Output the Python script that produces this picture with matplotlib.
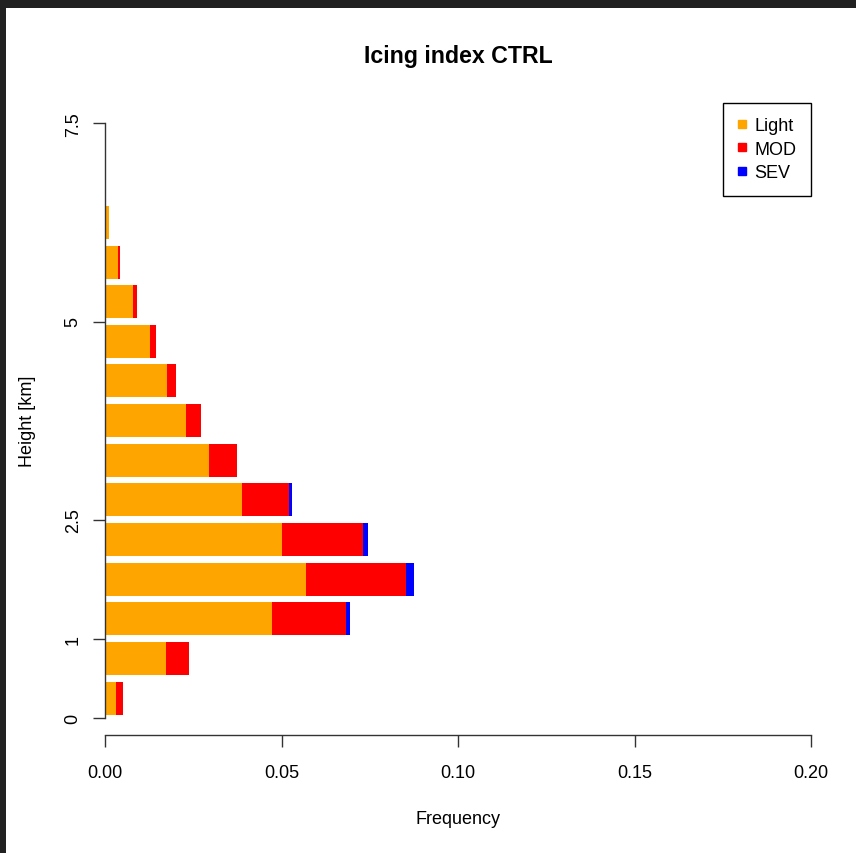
import matplotlib
matplotlib.use("Agg")
import matplotlib.pyplot as plt
from matplotlib.patches import Rectangle
from matplotlib.lines import Line2D
import numpy as np

plt.rcParams['font.family'] = ['Liberation Sans', 'DejaVu Sans']

# Height bins (km, lower edge), 0.5 km each
heights = [0.0, 0.5, 1.0, 1.5, 2.0, 2.5, 3.0, 3.5, 4.0, 4.5, 5.0, 5.5, 6.0]
light = [0.0031, 0.0172, 0.0473, 0.0569, 0.0500, 0.0387, 0.0295, 0.0230, 0.0176, 0.0127, 0.0078, 0.0038, 0.0011]
mod = [0.0021, 0.0065, 0.0211, 0.0284, 0.0230, 0.0134, 0.0078, 0.0041, 0.0026, 0.0017, 0.0012, 0.0004, 0.0000]
sev = [0.0000, 0.0000, 0.0011, 0.0023, 0.0016, 0.0009, 0.0000, 0.0000, 0.0000, 0.0000, 0.0000, 0.0000, 0.0000]
series_names = ['Light', 'MOD', 'SEV']
colors = ['#FFA500', '#FF0000', '#0000FF']
y_ticks = [0, 1, 2.5, 5, 7.5]
y_ticklabels = ['0', '1', '2.5', '5', '7.5']
x_ticks = [0.00, 0.05, 0.10, 0.15, 0.20]
x_ticklabels = ['0.00', '0.05', '0.10', '0.15', '0.20']

W, H = 856, 854
fig = plt.figure(figsize=(W / 100, H / 100), dpi=100, facecolor='#212121')
fig.patches.append(Rectangle((6 / W, 0), 1 - 6 / W, 1 - 9 / H, transform=fig.transFigure,
                             facecolor='white', edgecolor='none', zorder=-10))

left, right, top, bottom = 105, 811, 100, 736
ax = fig.add_axes([left / W, 1 - bottom / H, (right - left) / W, (bottom - top) / H])
ax.set_facecolor('none')

bin_w = 0.5
bar_h = bin_w / 1.2
centers = np.array(heights) + bin_w / 2
light_a, mod_a, sev_a = np.array(light), np.array(mod), np.array(sev)
ax.barh(centers, light_a, height=bar_h, color=colors[0], linewidth=0)
ax.barh(centers, mod_a, left=light_a, height=bar_h, color=colors[1], linewidth=0)
ax.barh(centers, sev_a, left=light_a + mod_a, height=bar_h, color=colors[2], linewidth=0)

# y mapping: px = 719 - 79.3*km
y_lo = (719 - bottom) / 79.3
y_hi = (719 - top) / 79.3
ax.set_ylim(y_lo, y_hi)
ax.set_xlim(0, 0.2)

for s in ['top', 'right']:
    ax.spines[s].set_visible(False)
ax.spines['left'].set_bounds(0, 7.5)
ax.spines['bottom'].set_bounds(0, 0.2)
for s in ['left', 'bottom']:
    ax.spines[s].set_color('#333333')
    ax.spines[s].set_linewidth(1.0)

ax.set_yticks(y_ticks)
ax.set_yticklabels(y_ticklabels, rotation=90, va='center')
ax.set_xticks(x_ticks)
ax.set_xticklabels(x_ticklabels)
ax.tick_params(axis='y', length=8.8, width=1, color='#333333', pad=8, labelsize=13)
ax.tick_params(axis='x', length=8.8, width=1, color='#333333', pad=12, labelsize=13)

ax.set_xlabel('Frequency', fontsize=13)
ax.xaxis.set_label_coords(0.5, (bottom - 820) / (bottom - top))
ax.xaxis.label.set_va('center')
ax.set_ylabel('Height [km]', fontsize=13)
ax.yaxis.set_label_coords((27 - left) / (right - left), (bottom - 421) / (bottom - top))
ax.yaxis.label.set_va('center')

fig.text((left + right) / 2 / W, 1 - 57 / H, 'Icing index CTRL', ha='center', va='center',
         fontsize=16.7, fontweight='bold')

handles = [Line2D([], [], marker='s', linestyle='none', color=c, markersize=5.8) for c in colors]
leg = ax.legend(handles, series_names, loc='upper right',
                bbox_to_anchor=(811 / W, 1 - 104 / H), bbox_transform=fig.transFigure,
                frameon=True, fancybox=False, edgecolor='black', framealpha=1,
                fontsize=13, handlelength=0.5, handletextpad=0.45, borderpad=0.8,
                labelspacing=0.35, borderaxespad=0)
leg.get_frame().set_linewidth(1.0)

fig.savefig('out.png', dpi=100, facecolor=fig.get_facecolor())
